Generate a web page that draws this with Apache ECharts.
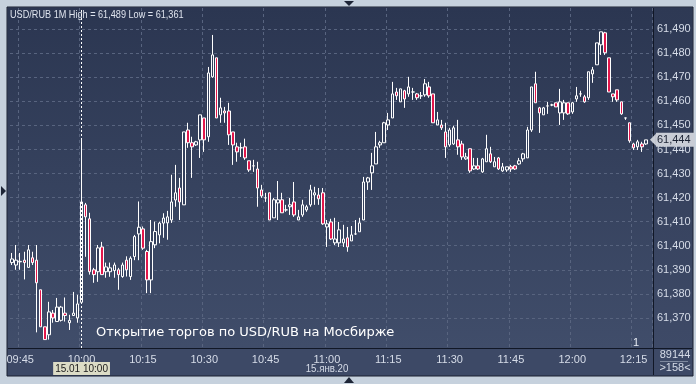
<!DOCTYPE html>
<html><head><meta charset="utf-8">
<script src="https://cdn.jsdelivr.net/npm/echarts@6/dist/echarts.min.js"></script>
<style>html,body{margin:0;padding:0;background:#c6d1dd;}#c{width:696px;height:384px;}</style>
</head><body><div id="c"></div><script>
const times = [
'09:43','09:44','09:45','09:46','09:47','09:48','09:49','09:50','09:51','09:52','09:53','09:54','09:55','09:56','09:57','09:58','09:59',
'10:00','10:01','10:02','10:03','10:04','10:05','10:06','10:07','10:08','10:09',
'10:10','10:11','10:12','10:13','10:14','10:15','10:16','10:17','10:18','10:19',
'10:20','10:21','10:22','10:23','10:24','10:25','10:26','10:27','10:28','10:29',
'10:30','10:31','10:32','10:33','10:34','10:35','10:36','10:37','10:38','10:39',
'10:40','10:41','10:42','10:43','10:44','10:45','10:46','10:47','10:48','10:49',
'10:50','10:51','10:52','10:53','10:54','10:55','10:56','10:57','10:58','10:59',
'11:00','11:01','11:02','11:03','11:04','11:05','11:06','11:07','11:08','11:09',
'11:10','11:11','11:12','11:13','11:14','11:15','11:16','11:17','11:18','11:19',
'11:20','11:21','11:22','11:23','11:24','11:25','11:26','11:27','11:28','11:29',
'11:30','11:31','11:32','11:33','11:34','11:35','11:36','11:37','11:38','11:39',
'11:40','11:41','11:42','11:43','11:44','11:45','11:46','11:47','11:48','11:49',
'11:50','11:51','11:52','11:53','11:54','11:55','11:56','11:57','11:58','11:59',
'12:00','12:01','12:02','12:03','12:04','12:05','12:06','12:07','12:08','12:09',
'12:10','12:11','12:12','12:13','12:14','12:15','12:16','12:17','12:18','12:19'
];
const opens = [
61.393,61.392,61.3933,61.394,61.391,61.395,61.394,61.3817,61.3663,61.363,61.372,61.3685,61.369,61.372,61.368,61.371,61.370,
61.3765,61.417,61.4112,61.390,61.3892,61.3995,61.3892,61.3892,61.3897,61.390,
61.3872,61.394,61.3872,61.3955,61.4049,61.407,61.3976,61.3858,61.4004,61.4045,
61.4094,61.4095,61.4107,61.419,61.424,61.417,61.4481,61.4428,61.4419,61.444,
61.4531,61.4453,61.4702,61.4781,61.4544,61.456,61.456,61.4473,61.4411,61.4407,
61.4411,61.4353,61.4332,61.4319,61.4232,61.4199,61.422,61.4116,61.4178,61.4191,
61.4149,61.4162,61.4182,61.4107,61.4128,61.4149,61.417,61.4211,61.4211,61.422,
61.4078,61.4099,61.4012,61.4012,61.4012,61.4033,61.402,61.4049,61.4058,61.4107,
61.4265,61.4303,61.434,61.4419,61.4428,61.4502,61.4531,61.4639,61.4598,61.4644,
61.4631,61.4639,61.4631,61.4623,61.4627,61.466,61.4631,61.4502,61.4502,61.4473,
61.4419,61.4423,61.444,61.4423,61.4361,61.4403,61.4319,61.4332,61.4307,61.4349,
61.4382,61.4328,61.4365,61.4311,61.4315,61.4328,61.4332,61.434,61.4361,61.4365,
61.4481,61.4673,61.4573,61.4544,61.4581,61.4585,61.4594,61.4552,61.4552,61.4594,
61.4556,61.461,61.4631,61.4619,61.4615,61.4714,61.4752,61.4835,61.4885,61.4781,
61.4631,61.4648,61.4598,61.4531,61.4511,61.4423,61.4411,61.4423,61.4423
];
const closes = [
61.3945,61.394,61.3935,61.393,61.3983,61.393,61.3846,61.3663,61.361,61.3725,61.370,61.3745,61.3745,61.371,61.369,61.372,61.3758,
61.4182,61.412,61.3892,61.388,61.3991,61.388,61.3912,61.3908,61.392,61.388,
61.392,61.390,61.3948,61.4038,61.4077,61.399,61.3858,61.4017,61.4059,61.4094,
61.4115,61.412,61.4182,61.422,61.4182,61.4473,61.4428,61.4411,61.4432,61.4544,
61.444,61.4718,61.4793,61.4531,61.4573,61.4552,61.4461,61.4419,61.439,61.4407,
61.4365,61.4315,61.4332,61.424,61.4207,61.4199,61.4107,61.4191,61.4191,61.4137,
61.4149,61.417,61.4128,61.412,61.417,61.4162,61.4232,61.422,61.4195,61.4091,
61.4091,61.4028,61.4028,61.4066,61.4028,61.3995,61.4045,61.4049,61.4095,61.4265,
61.4282,61.4332,61.4411,61.4428,61.4511,61.4523,61.4631,61.4623,61.4652,61.461,
61.466,61.4639,61.4615,61.4623,61.4673,61.4623,61.4511,61.4523,61.449,61.4411,
61.4481,61.449,61.4411,61.4369,61.4369,61.4311,61.4332,61.4319,61.4361,61.4403,
61.4349,61.4349,61.4319,61.4328,61.4328,61.4319,61.4319,61.4353,61.4382,61.4481,
61.466,61.4594,61.4552,61.4573,61.4581,61.4585,61.4577,61.4598,61.4594,61.4548,
61.4594,61.4623,61.4631,61.4598,61.4723,61.4731,61.4843,61.4889,61.4802,61.4639,
61.4619,61.4606,61.4548,61.4531,61.4436,61.4407,61.4432,61.4411,61.444
];
const highs = [
61.397,61.4003,61.397,61.3975,61.4003,61.3975,61.4003,61.3817,61.3663,61.3767,61.3733,61.3783,61.375,61.3785,61.3713,61.3808,61.3796,
61.444,61.4178,61.4137,61.3908,61.4003,61.4016,61.393,61.393,61.393,61.3908,
61.393,61.3956,61.3956,61.4045,61.4184,61.408,61.3983,61.4107,61.410,61.410,
61.4135,61.4145,61.4295,61.4336,61.4282,61.4473,61.4511,61.4453,61.4436,61.4544,
61.4531,61.4743,61.4876,61.4781,61.4615,61.4577,61.4594,61.4473,61.4428,61.4428,
61.4445,61.4353,61.4357,61.4349,61.4253,61.422,61.422,61.4199,61.4269,61.422,
61.417,61.4199,61.4265,61.4149,61.4191,61.417,61.4253,61.4245,61.424,61.424,
61.4107,61.4112,61.4116,61.4099,61.4087,61.4078,61.4082,61.4107,61.4116,61.4286,
61.4286,61.4386,61.4473,61.4436,61.4515,61.4552,61.4681,61.4656,61.4652,61.4648,
61.4702,61.4656,61.4635,61.4639,61.4693,61.4681,61.4631,61.4556,61.4523,61.4511,
61.449,61.4499,61.4523,61.4436,61.4386,61.4403,61.4365,61.4365,61.4365,61.4461,
61.4411,61.4369,61.4369,61.4344,61.4328,61.4336,61.4336,61.4365,61.4386,61.4494,
61.466,61.4723,61.4577,61.4577,61.4598,61.459,61.4594,61.4652,61.4606,61.4594,
61.4598,61.466,61.4644,61.4627,61.4723,61.4743,61.4843,61.4889,61.4889,61.4781,
61.4631,61.4648,61.4598,61.4531,61.4511,61.4428,61.444,61.4432,61.444
];
const lows = [
61.392,61.390,61.390,61.386,61.391,61.392,61.364,61.3663,61.361,61.361,61.368,61.3685,61.3685,61.3685,61.365,61.371,61.368,
61.376,61.3954,61.388,61.3846,61.385,61.388,61.3867,61.3871,61.3867,61.3817,
61.3867,61.3872,61.3858,61.394,61.394,61.3983,61.3803,61.3803,61.399,61.401,
61.4033,61.4025,61.4095,61.4162,61.4107,61.417,61.4407,61.4282,61.4415,61.4365,
61.439,61.4432,61.4698,61.4531,61.4511,61.4511,61.4419,61.4336,61.4349,61.4369,
61.4357,61.4307,61.4307,61.4162,61.4199,61.4182,61.4107,61.4116,61.4107,61.4137,
61.4141,61.4128,61.412,61.4107,61.412,61.4141,61.4162,61.417,61.417,61.4087,
61.3995,61.4024,61.4003,61.3995,61.3995,61.3975,61.402,61.4045,61.4058,61.4107,
61.4232,61.4232,61.434,61.4407,61.4428,61.4481,61.4531,61.4606,61.4598,61.4573,
61.4619,61.4606,61.4606,61.461,61.4619,61.4615,61.4511,61.4502,61.4481,61.4365,
61.4411,61.4419,61.4378,61.4357,61.4357,61.4303,61.4315,61.4315,61.4303,61.4349,
61.4344,61.4328,61.4315,61.4307,61.4307,61.4307,61.4315,61.4336,61.4349,61.4365,
61.4473,61.4594,61.4469,61.4544,61.4548,61.458,61.4577,61.4502,61.4523,61.4544,
61.4548,61.4598,61.4619,61.4594,61.4606,61.4677,61.4752,61.4793,61.4793,61.4639,
61.4598,61.4598,61.4544,61.4523,61.4428,61.4398,61.4398,61.439,61.4419
];
const headerText = 'USD/RUB 1M High = 61,489 Low = 61,361';
const annotationText = 'Открытие торгов по USD/RUB на Мосбирже';
const dateText = '15.янв.20';
const cursorTime = '10:00';
const cursorLabel = '15.01 10:00';
const volumeText = '89144';
const barsText = '>158<';
const cornerText = '1';

const fmt = v => v.toFixed(3).replace('.', ',');
const lastPrice = closes[closes.length - 1];
const data = opens.map((o, i) => [o, closes[i], lows[i], highs[i]]);
const isMajor = (i, v) => /:(00|15|30|45)$/.test(v);
const gridColor = '#58647f';
const SANS = '"Liberation Sans", Arial, sans-serif';

const chart = echarts.init(document.getElementById('c'), null, {renderer: 'canvas'});
chart.setOption({
  animation: false,
  backgroundColor: '#c6d1dd',
  textStyle: {fontFamily: SANS},
  graphic: [
    {type: 'rect', z: -20, shape: {x: 7, y: 7, width: 686, height: 369}, style: {fill: '#3d4966', stroke: '#1a2131', lineWidth: 1}},
    {type: 'rect', z: -19, shape: {x: 8, y: 8, width: 645, height: 340},
      style: {fill: new echarts.graphic.LinearGradient(0, 0, 0, 1, [{offset: 0, color: '#2b3651'}, {offset: 1, color: '#404d6a'}])}},
    {type: 'rect', z: -19, shape: {x: 654, y: 8, width: 38, height: 340},
      style: {fill: new echarts.graphic.LinearGradient(0, 0, 0, 1, [{offset: 0, color: '#2e3954'}, {offset: 1, color: '#3e4a67'}])}},
    {type: 'line', z: 5, shape: {x1: 8, y1: 348.5, x2: 692, y2: 348.5}, style: {stroke: '#111726', lineWidth: 1}},
    {type: 'line', z: 5, shape: {x1: 653.5, y1: 8, x2: 653.5, y2: 375}, style: {stroke: '#111726', lineWidth: 1}},
    {type: 'line', z: 5, shape: {x1: 660, y1: 361.5, x2: 688, y2: 361.5}, style: {stroke: '#7d889e', lineWidth: 1}},
    {type: 'polygon', shape: {points: [[344, 1], [354, 1], [349, 6]]}, style: {fill: '#1d2536'}},
    {type: 'polygon', shape: {points: [[344, 383], [354, 383], [349, 377]]}, style: {fill: '#1d2536'}},
    {type: 'polygon', shape: {points: [[1, 186], [1, 196], [6, 191]]}, style: {fill: '#1d2536'}},
    {type: 'text', z: 10, x: 10, y: 9, scaleX: 0.83, style: {text: headerText, x: 0, y: 0, fill: '#dfe4ee', font: '11px ' + SANS}},
    {type: 'text', z: 10, style: {text: annotationText, x: 96, y: 326, fill: '#ffffff', font: '13px "DejaVu Sans", sans-serif'}},
    {type: 'text', z: 10, x: 327, y: 369, scaleX: 0.88, style: {text: dateText, x: 0, y: 0, align: 'center', verticalAlign: 'middle', fill: '#d6dce8', font: '11px ' + SANS}},
    {type: 'text', z: 10, style: {text: volumeText, x: 675, y: 355, align: 'center', verticalAlign: 'middle', fill: '#d6dce8', font: '11px ' + SANS}},
    {type: 'text', z: 10, style: {text: barsText, x: 675, y: 368, align: 'center', verticalAlign: 'middle', fill: '#d6dce8', font: '11px ' + SANS}},
    {type: 'text', z: 10, style: {text: cornerText, x: 633, y: 337, fill: '#e8ecf4', font: '11px ' + SANS}}
  ],
  grid: {left: 10, right: 44, top: 8, bottom: 36, containLabel: false},
  xAxis: {
    type: 'category', data: times, boundaryGap: true,
    axisLine: {show: false}, axisTick: {show: false},
    axisLabel: {interval: isMajor, color: '#d6dce8', fontSize: 11, margin: 6},
    splitLine: {show: true, interval: isMajor, lineStyle: {color: gridColor, type: [3, 3], width: 1}},
    axisPointer: {
      show: true, type: 'line', value: times.indexOf(cursorTime), status: 'show', snap: true, triggerTooltip: false,
      lineStyle: {color: '#ffffff', width: 1, type: [2, 2]},
      label: {show: true, formatter: () => cursorLabel, backgroundColor: '#dcdcc6', color: '#1a1a1a',
        fontSize: 10, padding: [2, 2, 1, 2], margin: 14, borderRadius: 0, shadowBlur: 0}
    }
  },
  yAxis: {
    type: 'value', position: 'right', min: 61.3575, max: 61.4988, splitNumber: 14,
    axisLine: {show: false}, axisTick: {show: false},
    axisLabel: {color: '#d6dce8', fontSize: 11, margin: 5, showMinLabel: false, showMaxLabel: false,
      formatter: v => (v < 61.365 || v > 61.495) ? '' : fmt(v)},
    splitLine: {show: true, lineStyle: {
      color: ['rgba(0,0,0,0)', 'rgba(0,0,0,0)', gridColor, gridColor, gridColor, gridColor, gridColor, gridColor,
              gridColor, gridColor, gridColor, gridColor, gridColor, gridColor, gridColor, 'rgba(0,0,0,0)'],
      type: [3, 3], width: 1}}
  },
  series: [{
    type: 'candlestick', data: data, barWidth: 3,
    itemStyle: {color: '#34405c', color0: '#e2174b', borderColor: '#ffffff', borderColor0: '#ffffff', borderWidth: 1},
    markPoint: {
      silent: true, animation: false,
      symbol: 'path://M6,0 L0,6 L6,12 Z', symbolSize: [6, 12], symbolOffset: [3, 0],
      itemStyle: {color: '#c9cdd6'},
      data: [{coord: [times[times.length - 1], lastPrice]}],
      label: {show: true, position: 'right', distance: 0, formatter: () => fmt(lastPrice), backgroundColor: '#c9cdd6',
        color: '#1b2233', fontSize: 11, padding: [2, 4, 1, 1]}
    }
  }]
});
</script></body></html>
